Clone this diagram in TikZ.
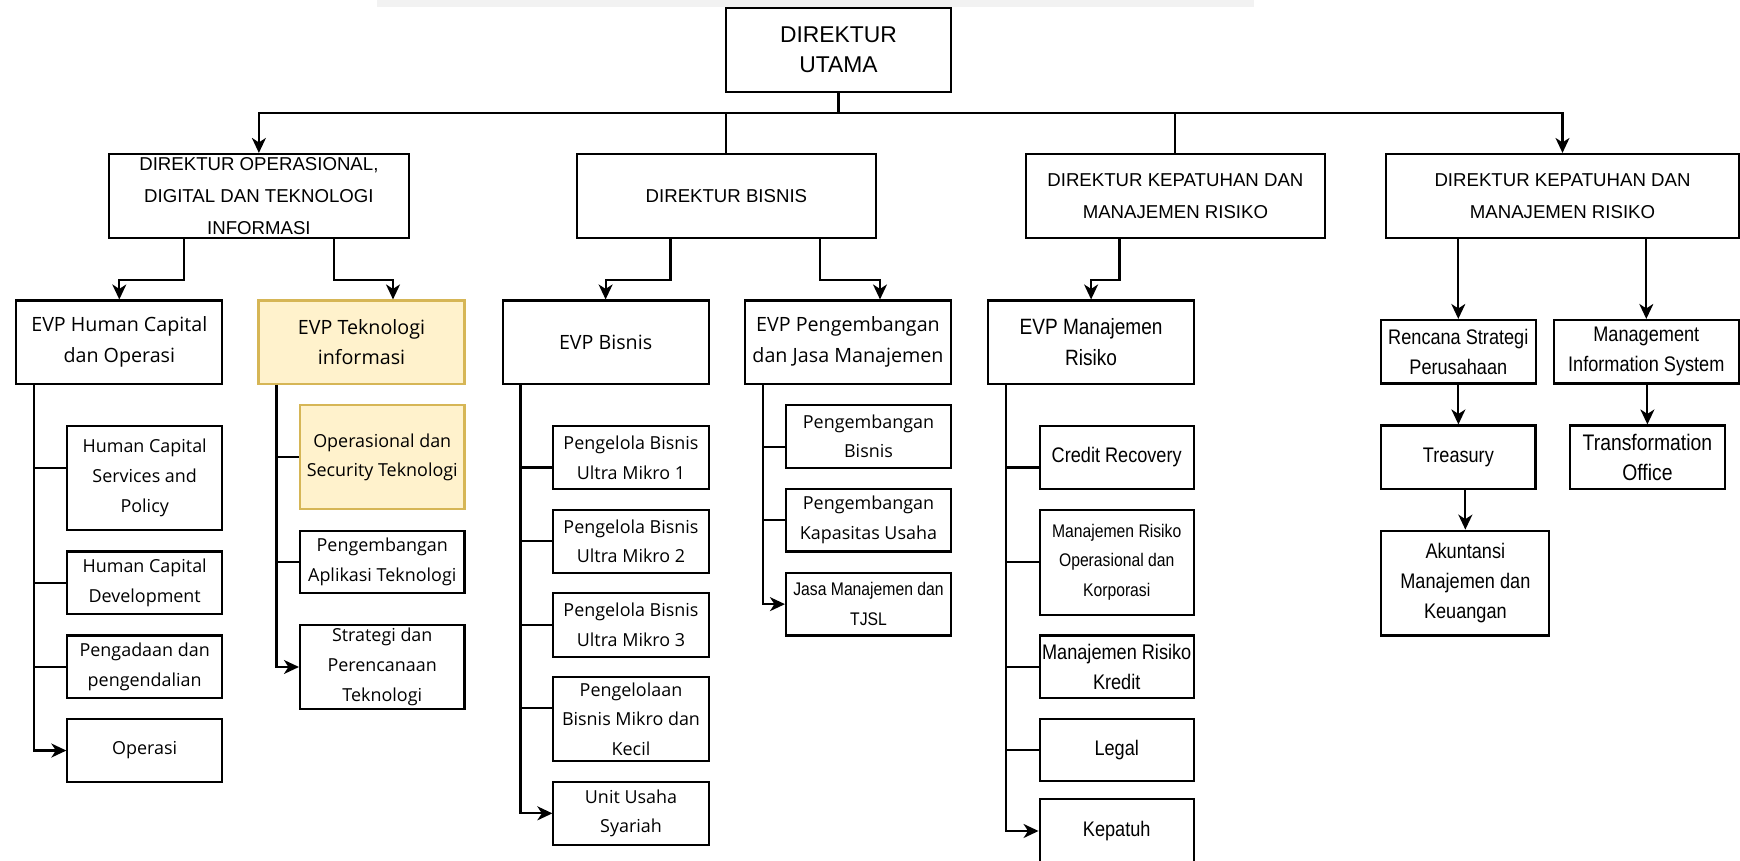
\documentclass[tikz,border=0pt]{standalone}
\usepackage{fontspec}
\setmainfont{Open Sans}
\newfontfamily\capsfont{Liberation Sans}
\newfontfamily\narrowfont{Liberation Sans}[FakeStretch=0.86]
\usetikzlibrary{arrows.meta}
\definecolor{kuning}{HTML}{FFF2CC}
\definecolor{kuningtepi}{HTML}{D6B656}

\begin{document}
\begin{tikzpicture}[
    box/.style={draw, line width=0.6pt, inner sep=0pt, align=center, font=\fontsize{5.1}{8.5}\selectfont},
    dir/.style={box, minimum height=0.84cm, font=\capsfont\fontsize{5.3}{9}\selectfont},
    evp/.style={box, minimum width=2.06cm, minimum height=0.832cm, font=\fontsize{5.6}{8.7}\selectfont},
    sempit/.style={box, font=\narrowfont\fontsize{6}{8.5}\selectfont},
    kecil/.style={box, font=\narrowfont\fontsize{5.2}{8.5}\selectfont},
    sorot/.style={fill=kuning, draw=kuningtepi},
    garis/.style={line width=0.6pt},
    panah/.style={line width=0.6pt, -{Stealth[length=1.5mm, width=1.4mm, inset=0.45mm]}}
  ]
    \useasboundingbox (0,0) rectangle (17.4,-8.61);
    \fill[black!5] (3.77,0) rectangle (12.54,-0.07);
    % Direktur Utama
    \node[dir, minimum width=2.25cm, font=\capsfont\fontsize{6.5}{8.6}\selectfont] (dirut) at (8.385,-0.5) {DIREKTUR\\UTAMA};
    \coordinate (bus) at (8.385,-1.127);
    % Direktur
    \node[dir, minimum width=3.0cm] (dirops) at (2.589,-1.96) {DIREKTUR OPERASIONAL,\\DIGITAL DAN TEKNOLOGI\\INFORMASI};
    \node[dir, minimum width=2.99cm] (dirbis) at (7.264,-1.96) {DIREKTUR BISNIS};
    \node[dir, minimum width=2.99cm] (dirkep1) at (11.754,-1.96) {DIREKTUR KEPATUHAN DAN\\MANAJEMEN RISIKO};
    \node[dir, minimum width=3.53cm] (dirkep2) at (15.625,-1.96) {DIREKTUR KEPATUHAN DAN\\MANAJEMEN RISIKO};
    \draw[garis] (dirut) -- (bus);
    \draw[panah] (bus) -| (dirops.north);
    \draw[garis] (bus) -| (dirbis.north);
    \draw[garis] (bus) -| (dirkep1.north);
    \draw[panah] (bus) -| (dirkep2.north);
    % EVP
    \node[evp] (evphc) at (1.193,-3.421) {EVP Human Capital\\dan Operasi};
    \node[evp, sorot] (evptek) at (3.615,-3.421) {EVP Teknologi\\informasi};
    \node[evp] (evpbis) at (6.056,-3.421) {EVP Bisnis};
    \node[evp] (evppeng) at (8.48,-3.421) {EVP Pengembangan\\dan Jasa Manajemen};
    \node[evp, font=\narrowfont\fontsize{6.3}{8.7}\selectfont] (evpmr) at (10.911,-3.421) {EVP Manajemen\\Risiko};
    \node[sempit, minimum width=1.546cm, minimum height=0.635cm] (rencana) at (14.583,-3.5175) {Rencana Strategi\\Perusahaan};
    \node[sempit, minimum width=1.855cm, minimum height=0.635cm] (mis) at (16.463,-3.5175) {Management\\Information System};
    \draw[panah] ([xshift=-0.749cm]dirops.south) -- ++(0,-0.413) -| (evphc.north);
    \draw[panah] ([xshift=0.748cm]dirops.south) -- ++(0,-0.413) -| ([xshift=0.315cm]evptek.north);
    \draw[panah] ([xshift=-0.559cm]dirbis.south) -- ++(0,-0.413) -| (evpbis.north);
    \draw[panah] ([xshift=0.936cm]dirbis.south) -- ++(0,-0.413) -| ([xshift=0.32cm]evppeng.north);
    \draw[panah] ([xshift=-0.559cm]dirkep1.south) -- ++(0,-0.413) -| (evpmr.north);
    \draw[panah] (dirkep2.south -| rencana.north) -- (rencana.north);
    \draw[panah] (dirkep2.south -| mis.north) -- (mis.north);
    % Human Capital
    \node[box, minimum width=1.546cm, minimum height=1.038cm] (hcsp) at (1.447,-4.781) {Human Capital\\Services and\\Policy};
    \node[box, minimum width=1.546cm, minimum height=0.623cm] (hcd) at (1.447,-5.8265) {Human Capital\\Development};
    \node[box, minimum width=1.546cm, minimum height=0.623cm] (pengadaan) at (1.447,-6.6665) {Pengadaan dan\\pengendalian};
    \node[box, minimum width=1.546cm, minimum height=0.623cm] (operasi) at (1.447,-7.5055) {Operasi};
    \coordinate (spinehc) at ([xshift=0.19cm]evphc.south west);
    \draw[panah] (spinehc) |- (operasi.west);
    \draw[garis] (hcsp.west -| spinehc) ++(0,0.105) -- ([yshift=0.105cm]hcsp.west);
    \draw[garis] (hcd.west -| spinehc) -- (hcd.west);
    \draw[garis] (pengadaan.west -| spinehc) -- (pengadaan.west);
    % Teknologi
    \node[box, sorot, minimum width=1.645cm, minimum height=1.041cm] (opsec) at (3.8225,-4.5735) {Operasional dan\\Security Teknologi};
    \node[box, minimum width=1.645cm, minimum height=0.626cm] (pengapl) at (3.8225,-5.62) {Pengembangan\\Aplikasi Teknologi};
    \node[box, minimum width=1.645cm, minimum height=0.84cm] (strategi) at (3.8225,-6.67) {Strategi dan\\Perencanaan\\Teknologi};
    \coordinate (spinetek) at ([xshift=0.19cm]evptek.south west);
    \draw[panah] (spinetek) |- (strategi.west);
    \draw[garis] (opsec.west -| spinetek) -- (opsec.west);
    \draw[garis] (pengapl.west -| spinetek) -- (pengapl.west);
    % Bisnis
    \node[box, minimum width=1.552cm, minimum height=0.627cm] (pbum1) at (6.31,-4.5755) {Pengelola Bisnis\\Ultra Mikro 1};
    \node[box, minimum width=1.552cm, minimum height=0.63cm] (pbum2) at (6.31,-5.413) {Pengelola Bisnis\\Ultra Mikro 2};
    \node[box, minimum width=1.552cm, minimum height=0.634cm] (pbum3) at (6.31,-6.25) {Pengelola Bisnis\\Ultra Mikro 3};
    \node[box, minimum width=1.552cm, minimum height=0.84cm] (pengelolaan) at (6.31,-7.192) {Pengelolaan\\Bisnis Mikro dan\\Kecil};
    \node[box, minimum width=1.552cm, minimum height=0.633cm] (unitusaha) at (6.31,-8.1335) {Unit Usaha\\Syariah};
    \coordinate (spinebis) at ([xshift=0.19cm]evpbis.south west);
    \draw[panah] (spinebis) |- (unitusaha.west);
    \draw[garis] (pbum1.west -| spinebis) ++(0,-0.1) -- ([yshift=-0.1cm]pbum1.west);
    \draw[garis] (pbum2.west -| spinebis) -- (pbum2.west);
    \draw[garis] (pbum3.west -| spinebis) -- (pbum3.west);
    \draw[garis] (pengelolaan.west -| spinebis) ++(0,0.11) -- ([yshift=0.11cm]pengelolaan.west);
    % Pengembangan
    \node[box, minimum width=1.65cm, minimum height=0.626cm] (pengbis) at (8.685,-4.363) {Pengembangan\\Bisnis};
    \node[box, minimum width=1.65cm, minimum height=0.626cm] (pengkap) at (8.685,-5.202) {Pengembangan\\Kapasitas Usaha};
    \node[kecil, minimum width=1.65cm, minimum height=0.627cm] (jasa) at (8.685,-6.0415) {Jasa Manajemen dan\\TJSL};
    \coordinate (spinepeng) at ([xshift=0.19cm]evppeng.south west);
    \draw[panah] (spinepeng) |- (jasa.west);
    \draw[garis] (pengbis.west -| spinepeng) ++(0,-0.104) -- ([yshift=-0.104cm]pengbis.west);
    \draw[garis] (pengkap.west -| spinepeng) -- (pengkap.west);
    % Manajemen Risiko
    \node[sempit, minimum width=1.542cm, minimum height=0.627cm] (credit) at (11.167,-4.5755) {Credit Recovery};
    \node[kecil, minimum width=1.542cm, minimum height=1.048cm] (mrops) at (11.167,-5.622) {Manajemen Risiko\\Operasional dan\\Korporasi};
    \node[sempit, minimum width=1.542cm, minimum height=0.623cm] (mrkredit) at (11.167,-6.6665) {Manajemen Risiko\\Kredit};
    \node[sempit, minimum width=1.542cm, minimum height=0.623cm] (legal) at (11.167,-7.5) {Legal};
    \node[sempit, minimum width=1.542cm, minimum height=0.64cm] (kepatuh) at (11.167,-8.31) {Kepatuh};
    \coordinate (spinemr) at ([xshift=0.19cm]evpmr.south west);
    \draw[panah] (spinemr) |- (kepatuh.west);
    \draw[garis] (credit.west -| spinemr) ++(0,-0.1) -- ([yshift=-0.1cm]credit.west);
    \draw[garis] (mrops.west -| spinemr) -- (mrops.west);
    \draw[garis] (mrkredit.west -| spinemr) -- (mrkredit.west);
    \draw[garis] (legal.west -| spinemr) -- (legal.west);
    % Strategi dan MIS
    \node[sempit, minimum width=1.542cm, minimum height=0.634cm] (treasury) at (14.584,-4.572) {Treasury};
    \node[sempit, minimum width=1.552cm, minimum height=0.634cm, font=\narrowfont\fontsize{6.4}{8.5}\selectfont] (transform) at (16.474,-4.572) {Transformation\\Office};
    \node[sempit, minimum width=1.681cm, minimum height=1.048cm] (akuntansi) at (14.6535,-5.831) {Akuntansi\\Manajemen dan\\Keuangan};
    \draw[panah] (rencana.south -| treasury.north) -- (treasury.north);
    \draw[panah] (treasury.south -| akuntansi.north) -- (akuntansi.north);
    \draw[panah] (mis.south -| transform.north) -- (transform.north);
\end{tikzpicture}
\end{document}
